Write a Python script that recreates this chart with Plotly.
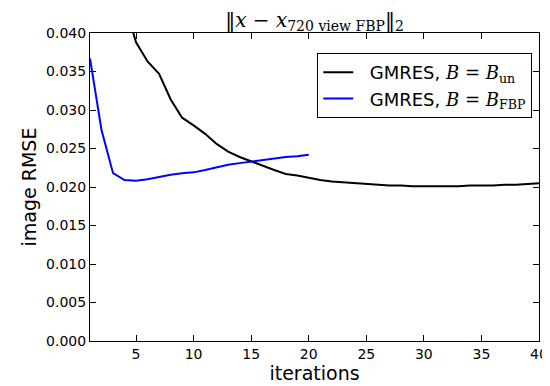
import plotly.graph_objects as go

iters_black = list(range(1, 41))
rmse_black = [0.090, 0.070, 0.055, 0.0438, 0.0388, 0.0363, 0.0347, 0.0314, 0.0290, 0.0280,
              0.0269, 0.0256, 0.0246, 0.0239, 0.0233, 0.0227, 0.0222, 0.0217, 0.0215, 0.0212,
              0.0209, 0.0207, 0.0206, 0.0205, 0.0204, 0.0203, 0.0202, 0.0202, 0.0201, 0.0201,
              0.0201, 0.0201, 0.0201, 0.0202, 0.0202, 0.0202, 0.0203, 0.0203, 0.0204, 0.0205]
iters_blue = list(range(1, 21))
rmse_blue = [0.0367, 0.0274, 0.0218, 0.0209, 0.0208, 0.0210, 0.0213, 0.0216, 0.0218, 0.0219,
             0.0222, 0.0226, 0.0229, 0.0231, 0.0233, 0.0235, 0.0237, 0.0239, 0.0240, 0.0242]
x_ticks = [5, 10, 15, 20, 25, 30, 35, 40]
y_ticks = [0.000, 0.005, 0.010, 0.015, 0.020, 0.025, 0.030, 0.035, 0.040]

serif = "font-family:'DejaVu Serif', 'Liberation Serif', serif"
name_black = f"&nbsp;&nbsp;GMRES, <span style=\"{serif}\"><i>B</i>&nbsp;=&nbsp;<i>B</i><sub>un</sub></span>"
name_blue = f"&nbsp;&nbsp;GMRES, <span style=\"{serif}\"><i>B</i>&nbsp;=&nbsp;<i>B</i><sub>FBP</sub></span>"
title = (f"<span style=\"{serif}\">‖<i>x</i> − <i>x</i><sub>720 view FBP</sub>‖<sub>2</sub></span>")

fig = go.Figure()
fig.add_trace(go.Scatter(x=iters_black, y=rmse_black, mode="lines", name=name_black,
                         line=dict(color="black", width=2)))
fig.add_trace(go.Scatter(x=iters_blue, y=rmse_blue, mode="lines", name=name_blue,
                         line=dict(color="blue", width=2)))

axis_common = dict(showline=True, linecolor="black", linewidth=1, mirror="ticks",
                   ticks="inside", ticklen=6, tickcolor="black", showgrid=False,
                   zeroline=False, automargin=False,
                   tickfont=dict(family="DejaVu Sans", size=14, color="black"))

# page body has an 8px default margin; figure is sized to fill the 550x386 window
W, H = 542, 378
fig.update_layout(
    width=W, height=H,
    margin=dict(l=82, r=11, t=25, b=45),
    paper_bgcolor="white", plot_bgcolor="white",
    font=dict(family="DejaVu Sans", color="black"),
    title=dict(text=title, x=(82 + (W - 82 - 11) / 2) / W, xanchor="center",
               y=1 - 12 / H, yanchor="middle", font=dict(size=20, color="black")),
    xaxis=dict(range=[1, 40], tickvals=x_ticks,
               title=dict(text="iterations", font=dict(size=19), standoff=2), **axis_common),
    yaxis=dict(range=[0, 0.04], tickvals=y_ticks, tickformat=".3f",
               title=dict(text="image RMSE", font=dict(size=19), standoff=4), **axis_common),
    legend=dict(x=0.985, xanchor="right", y=0.935, yanchor="top",
                bordercolor="black", borderwidth=1, bgcolor="white",
                font=dict(size=18, color="black"), tracegroupgap=0),
    showlegend=True,
)

fig.write_html("out.html")
